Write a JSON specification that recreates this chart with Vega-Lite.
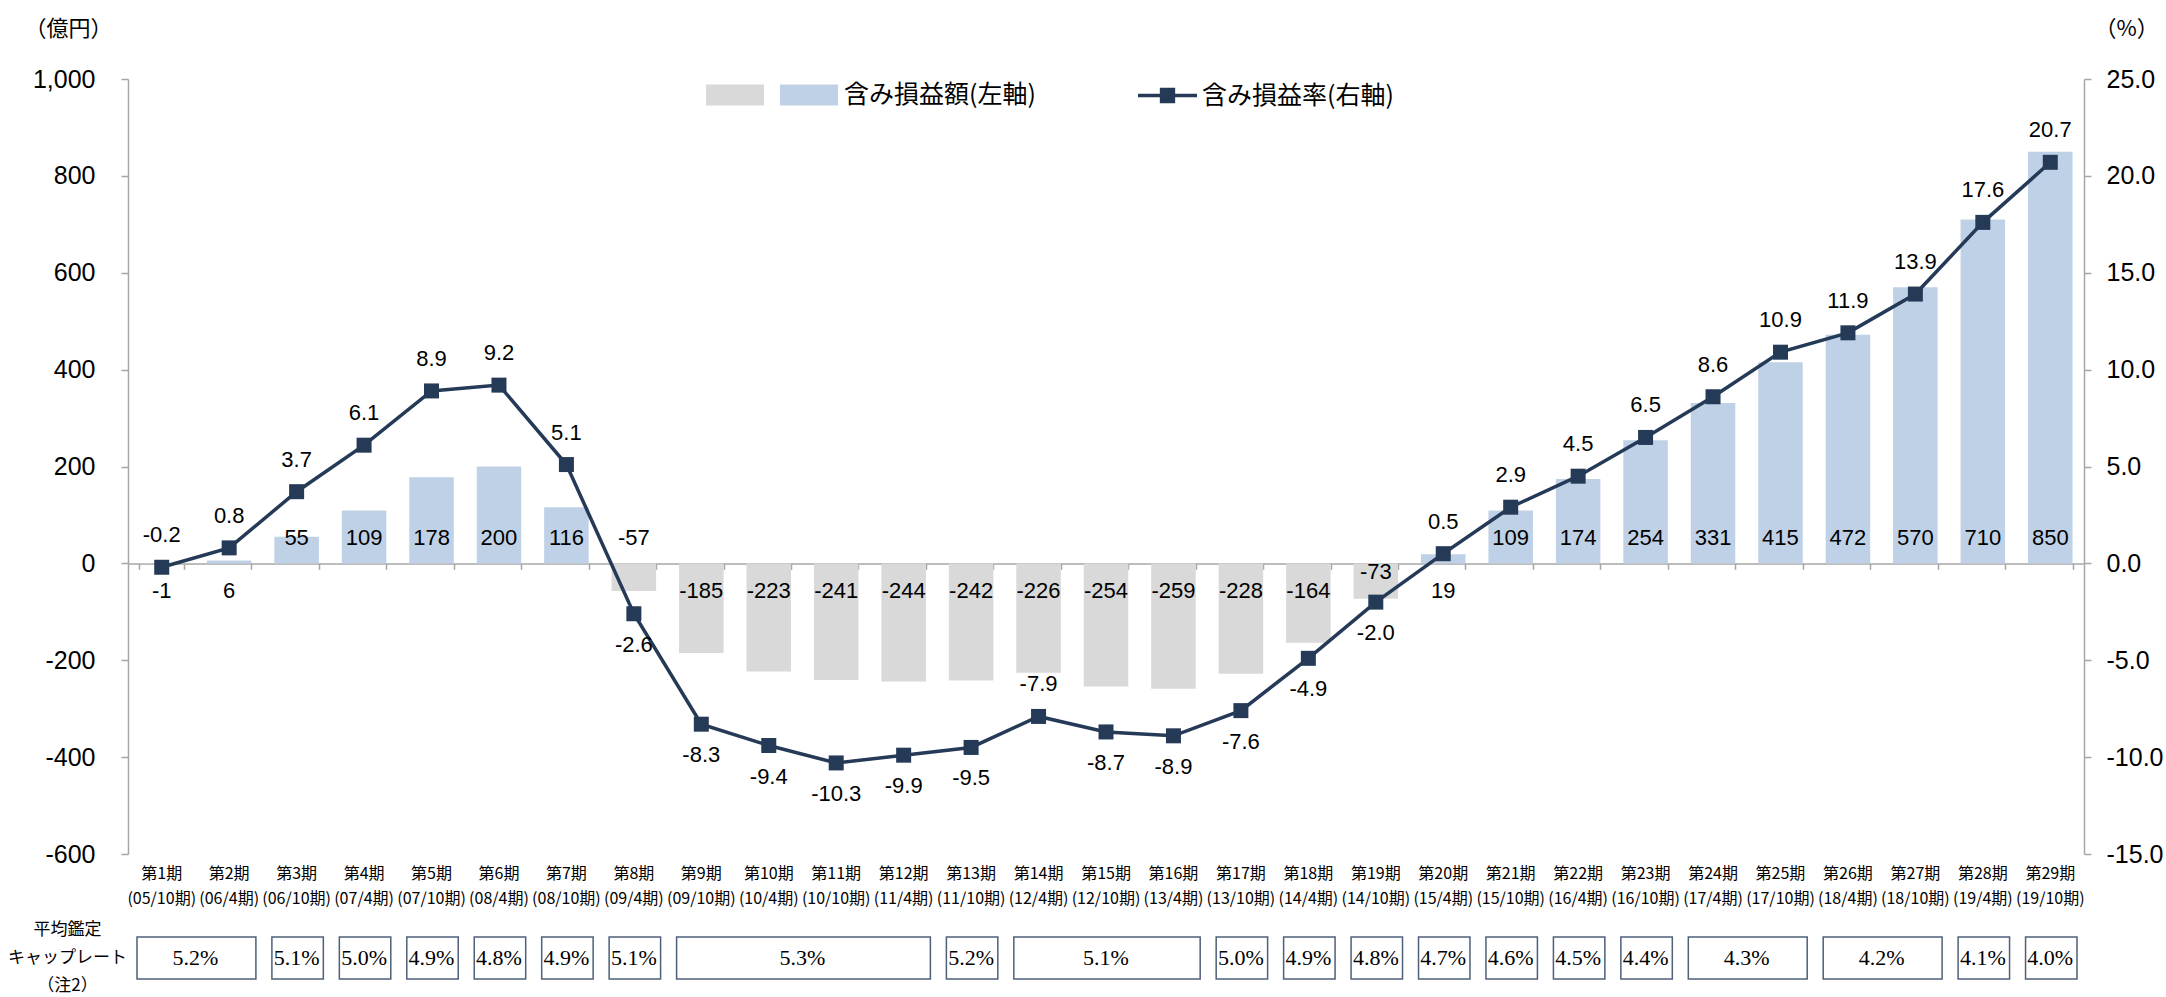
{
  "$schema": "https://vega.github.io/schema/vega-lite/v6.json",
  "background": "white",
  "padding": {"left": 7, "top": 17, "right": 10, "bottom": 5},
  "config": {
    "view": {"stroke": null},
    "font": "Liberation Sans",
    "locale": {"number": {"decimal": ".", "thousands": ",", "grouping": [3], "currency": ["", ""], "minus": "-"}},
    "axis": {"labelColor": "black", "titleColor": "black", "grid": false}
  },
  "datasets": {
    "main": [
      {"x": "第1期|(05/10期)", "amt": -1, "rate": -0.2},
      {"x": "第2期|(06/4期)", "amt": 6, "rate": 0.8},
      {"x": "第3期|(06/10期)", "amt": 55, "rate": 3.7},
      {"x": "第4期|(07/4期)", "amt": 109, "rate": 6.1},
      {"x": "第5期|(07/10期)", "amt": 178, "rate": 8.9},
      {"x": "第6期|(08/4期)", "amt": 200, "rate": 9.2},
      {"x": "第7期|(08/10期)", "amt": 116, "rate": 5.1},
      {"x": "第8期|(09/4期)", "amt": -57, "rate": -2.6},
      {"x": "第9期|(09/10期)", "amt": -185, "rate": -8.3},
      {"x": "第10期|(10/4期)", "amt": -223, "rate": -9.4},
      {"x": "第11期|(10/10期)", "amt": -241, "rate": -10.3},
      {"x": "第12期|(11/4期)", "amt": -244, "rate": -9.9},
      {"x": "第13期|(11/10期)", "amt": -242, "rate": -9.5},
      {"x": "第14期|(12/4期)", "amt": -226, "rate": -7.9},
      {"x": "第15期|(12/10期)", "amt": -254, "rate": -8.7},
      {"x": "第16期|(13/4期)", "amt": -259, "rate": -8.9},
      {"x": "第17期|(13/10期)", "amt": -228, "rate": -7.6},
      {"x": "第18期|(14/4期)", "amt": -164, "rate": -4.9},
      {"x": "第19期|(14/10期)", "amt": -73, "rate": -2.0},
      {"x": "第20期|(15/4期)", "amt": 19, "rate": 0.5},
      {"x": "第21期|(15/10期)", "amt": 109, "rate": 2.9},
      {"x": "第22期|(16/4期)", "amt": 174, "rate": 4.5},
      {"x": "第23期|(16/10期)", "amt": 254, "rate": 6.5},
      {"x": "第24期|(17/4期)", "amt": 331, "rate": 8.6},
      {"x": "第25期|(17/10期)", "amt": 415, "rate": 10.9},
      {"x": "第26期|(18/4期)", "amt": 472, "rate": 11.9},
      {"x": "第27期|(18/10期)", "amt": 570, "rate": 13.9},
      {"x": "第28期|(19/4期)", "amt": 710, "rate": 17.6},
      {"x": "第29期|(19/10期)", "amt": 850, "rate": 20.7}
    ],
    "caps": [
      {"start": 0, "end": 2, "cap": "5.2%"},
      {"start": 2, "end": 3, "cap": "5.1%"},
      {"start": 3, "end": 4, "cap": "5.0%"},
      {"start": 4, "end": 5, "cap": "4.9%"},
      {"start": 5, "end": 6, "cap": "4.8%"},
      {"start": 6, "end": 7, "cap": "4.9%"},
      {"start": 7, "end": 8, "cap": "5.1%"},
      {"start": 8, "end": 12, "cap": "5.3%"},
      {"start": 12, "end": 13, "cap": "5.2%"},
      {"start": 13, "end": 16, "cap": "5.1%"},
      {"start": 16, "end": 17, "cap": "5.0%"},
      {"start": 17, "end": 18, "cap": "4.9%"},
      {"start": 18, "end": 19, "cap": "4.8%"},
      {"start": 19, "end": 20, "cap": "4.7%"},
      {"start": 20, "end": 21, "cap": "4.6%"},
      {"start": 21, "end": 22, "cap": "4.5%"},
      {"start": 22, "end": 23, "cap": "4.4%"},
      {"start": 23, "end": 25, "cap": "4.3%"},
      {"start": 25, "end": 27, "cap": "4.2%"},
      {"start": 27, "end": 28, "cap": "4.1%"},
      {"start": 28, "end": 29, "cap": "4.0%"}
    ]
  },
  "spacing": 83,
  "bounds": "flush",
  "vconcat": [
    {
      "width": 1956,
      "height": 775,
      "data": {"name": "main"},
      "layer": [
        {
          "encoding": {
            "x": {
              "field": "x", "type": "ordinal", "sort": null,
              "scale": {"paddingInner": 0.34, "paddingOuter": 0.17},
              "axis": {"orient": "bottom", "offset": -290.625, "labels": false, "title": null,
                       "domainColor": "#a6a6a6", "domainWidth": 1.5, "tickColor": "#a6a6a6",
                       "tickWidth": 1.5, "tickSize": 6, "tickBand": "extent"}
            }
          },
          "layer": [
            {
              "transform": [{"calculate": "datum.amt < 0 ? 'neg' : 'pos'", "as": "sign"}],
              "mark": {"type": "bar"},
              "encoding": {
                "y": {
                  "field": "amt", "type": "quantitative",
                  "scale": {"domain": [-600, 1000], "nice": false, "zero": false},
                  "axis": {"orient": "left", "values": [-600, -400, -200, 0, 200, 400, 600, 800, 1000],
                           "format": ",d", "labelFontSize": 25, "labelPadding": 26, "tickSize": 7,
                           "domainColor": "#a6a6a6", "domainWidth": 1.5, "tickColor": "#a6a6a6", "tickWidth": 1.5,
                           "title": "（億円）", "titleAngle": 0, "titleAlign": "left", "titleBaseline": "middle",
                           "titleX": -104, "titleY": -51, "titleFont": "Noto Sans CJK JP",
                           "titleFontSize": 22, "titleFontWeight": "normal"}
                },
                "color": {
                  "field": "sign", "type": "nominal",
                  "scale": {"domain": ["neg", "pos"], "range": ["#d9d9d9", "#bfd1e7"]},
                  "legend": {"title": null, "orient": "none", "legendX": 578, "legendY": -13,
                             "direction": "horizontal", "symbolType": "M-1,-0.36H1V0.36H-1Z",
                             "symbolSize": 3364, "symbolStrokeWidth": 0, "labelLimit": 0,
                             "labelExpr": "datum.label == 'pos' ? '含み損益額(左軸)' : ''",
                             "labelFont": "Noto Sans CJK JP", "labelFontSize": 25, "labelColor": "black",
                             "labelOffset": 6, "columnPadding": 10}
                }
              }
            },
            {
              "transform": [{"filter": "datum.amt > 30 || datum.amt == -57"}],
              "mark": {"type": "text", "fontSize": 22, "dy": -25, "color": "black"},
              "encoding": {
                "y": {"datum": 0, "type": "quantitative"},
                "text": {"field": "amt", "type": "quantitative", "format": "d"}
              }
            },
            {
              "transform": [{"filter": "datum.amt <= 30 && datum.amt != -57 && datum.amt != -73"}],
              "mark": {"type": "text", "fontSize": 22, "dy": 28, "color": "black"},
              "encoding": {
                "y": {"datum": 0, "type": "quantitative"},
                "text": {"field": "amt", "type": "quantitative", "format": "d"}
              }
            },
            {
              "transform": [{"filter": "datum.amt == -73"}],
              "mark": {"type": "text", "fontSize": 22, "dy": 9, "color": "black"},
              "encoding": {
                "y": {"datum": 0, "type": "quantitative"},
                "text": {"field": "amt", "type": "quantitative", "format": "d"}
              }
            }
          ]
        },
        {
          "encoding": {
            "x": {
              "field": "x", "type": "ordinal", "sort": null,
              "scale": {"paddingInner": 0.34, "paddingOuter": 0.17},
              "axis": {"orient": "bottom", "domain": false, "ticks": false, "title": null,
                       "labelExpr": "split(datum.label, '|')", "labelAngle": 0, "labelOverlap": false,
                       "labelFont": "Noto Sans CJK JP", "labelFontSize": 16, "labelLineHeight": 25,
                       "labelPadding": 11, "labelLimit": 0}
            },
            "y": {
              "field": "rate", "type": "quantitative",
              "scale": {"domain": [-15, 25], "nice": false, "zero": false},
              "axis": {"orient": "right", "values": [-15, -10, -5, 0, 5, 10, 15, 20, 25],
                       "format": ".1f", "labelFontSize": 25, "labelPadding": 15, "tickSize": 7,
                       "domainColor": "#a6a6a6", "domainWidth": 1.5, "tickColor": "#a6a6a6", "tickWidth": 1.5,
                       "title": "（%）", "titleAngle": 0, "titleAlign": "left", "titleBaseline": "middle",
                       "titleX": 10, "titleY": -51, "titleFont": "Noto Sans CJK JP",
                       "titleFontSize": 22, "titleFontWeight": "normal"}
            }
          },
          "layer": [
            {
              "mark": {"type": "line", "strokeWidth": 3.5},
              "encoding": {
                "stroke": {
                  "datum": "含み損益率(右軸)", "type": "nominal",
                  "scale": {"range": ["#243a56"]},
                  "legend": {"title": null, "orient": "none", "legendX": 1010, "legendY": -13,
                             "symbolType": "M-1,-0.06H1V0.06H-1Z M-0.26,-0.26H0.26V0.26H-0.26Z",
                             "symbolSize": 3481, "labelLimit": 0,
                             "labelFont": "Noto Sans CJK JP", "labelFontSize": 25, "labelColor": "black",
                             "labelOffset": 5,
                             "encode": {"symbols": {"update": {"fill": {"value": "#243a56"}, "strokeWidth": {"value": 0}}}}}
                }
              }
            },
            {
              "mark": {"type": "point", "shape": "square", "filled": true, "size": 225, "color": "#243a56", "opacity": 1}
            },
            {
              "transform": [{"filter": "datum.rate > -1 || datum.rate == -7.9"}],
              "mark": {"type": "text", "fontSize": 22, "dy": -32, "color": "black"},
              "encoding": {"text": {"field": "rate", "type": "quantitative", "format": ".1f"}}
            },
            {
              "transform": [{"filter": "!(datum.rate > -1 || datum.rate == -7.9)"}],
              "mark": {"type": "text", "fontSize": 22, "dy": 31, "color": "black"},
              "encoding": {"text": {"field": "rate", "type": "quantitative", "format": ".1f"}}
            }
          ]
        }
      ],
      "resolve": {"scale": {"y": "independent"}, "axis": {"x": "independent", "y": "independent"}}
    },
    {
      "width": 1956,
      "height": 42,
      "data": {"name": "caps"},
      "encoding": {
        "y": {
          "datum": "平均鑑定|キャップレート|（注2）", "type": "nominal",
          "scale": {"paddingInner": 0, "paddingOuter": 0},
          "axis": {"orient": "left", "domain": false, "ticks": false, "title": null,
                   "labelExpr": "split(datum.label, '|')", "labelAlign": "center", "labelBaseline": "middle",
                   "labelOffset": -28,
                   "labelPadding": 61, "labelFont": "Noto Sans CJK JP", "labelFontSize": 17,
                   "labelLineHeight": 28, "labelLimit": 0}
        }
      },
      "layer": [
        {
          "mark": {"type": "rect", "fill": "white", "stroke": "#4f6079", "strokeWidth": 1.5, "xOffset": 9, "x2Offset": -7},
          "encoding": {
            "x": {"field": "start", "type": "quantitative", "scale": {"domain": [0, 29], "nice": false, "zero": false}, "axis": null},
            "x2": {"field": "end"}
          }
        },
        {
          "transform": [{"calculate": "(datum.start + datum.end) / 2", "as": "mid"}],
          "mark": {"type": "text", "fontSize": 22, "font": "Liberation Sans Narrow", "color": "black"},
          "encoding": {
            "x": {"field": "mid", "type": "quantitative"},
            "text": {"field": "cap", "type": "nominal"}
          }
        }
      ]
    }
  ]
}
